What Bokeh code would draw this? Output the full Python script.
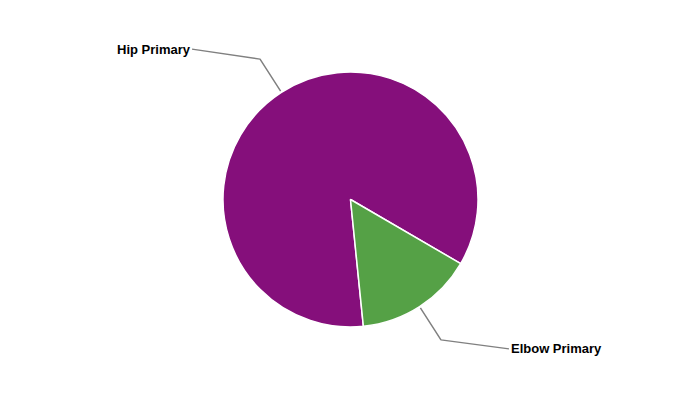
import math
from bokeh.plotting import figure
from bokeh.models import Range1d, ColumnDataSource
from bokeh.core.properties import value
from bokeh.embed import file_html
from bokeh.resources import INLINE

# data
categories = ["Hip Primary", "Elbow Primary"]
values = [85, 15]
colors = ["#850f7b", "#55a146"]

# layout (pixel-like data coords, y up)
W, H = 684, 384
cx, cy = 350, 400 - 199
R = 127.5
start_theta = 174.2  # degrees clockwise from 12 o'clock

p = figure(width=W, height=H, output_backend="svg", toolbar_location=None,
           x_range=Range1d(0, W), y_range=Range1d(400 - H, 400),
           min_border=0)
p.axis.visible = False
p.grid.visible = False
p.outline_line_color = None
p.background_fill_color = "white"
p.border_fill_color = "white"

total = sum(values)
starts, ends, mids = [], [], []
cum = 0.0
for v in values:
    t0 = start_theta + 360.0 * cum / total
    cum += v
    t1 = start_theta + 360.0 * cum / total
    # convert clockwise-from-top to math angle (ccw from +x)
    starts.append(math.radians(90 - t0))
    ends.append(math.radians(90 - t1))
    mids.append((t0 + t1) / 2.0)

src = ColumnDataSource(dict(cat=categories, val=values, color=colors,
                            start=starts, end=ends))
p.wedge(x=cx, y=cy, radius=R, start_angle="start", end_angle="end",
        direction="clock", fill_color="color", line_color="white",
        line_width=1.5, source=src)

# connectors and labels
for cat, mid in zip(categories, mids):
    rad = math.radians(mid)
    sx, sy = math.sin(rad), math.cos(rad)
    x0, y0 = cx + sx * 129, cy + sy * 129
    x1, y1 = cx + sx * 167, cy + sy * 167
    right = sx >= 0
    x2 = x1 + (68 if right else -68)
    y2 = y1 + (-9 if right else 10)
    p.line([x0, x1, x2], [y0, y1, y2], line_color="#808080", line_width=1.5)
    p.text(x=[x2 + (2 if right else -2)], y=[y2], text=[cat],
           text_font=value("Liberation Sans"), text_font_style="bold",
           text_font_size="13px", text_color="black",
           text_align="left" if right else "right", text_baseline="middle")

open("out.html", "w").write(file_html(p, INLINE))
